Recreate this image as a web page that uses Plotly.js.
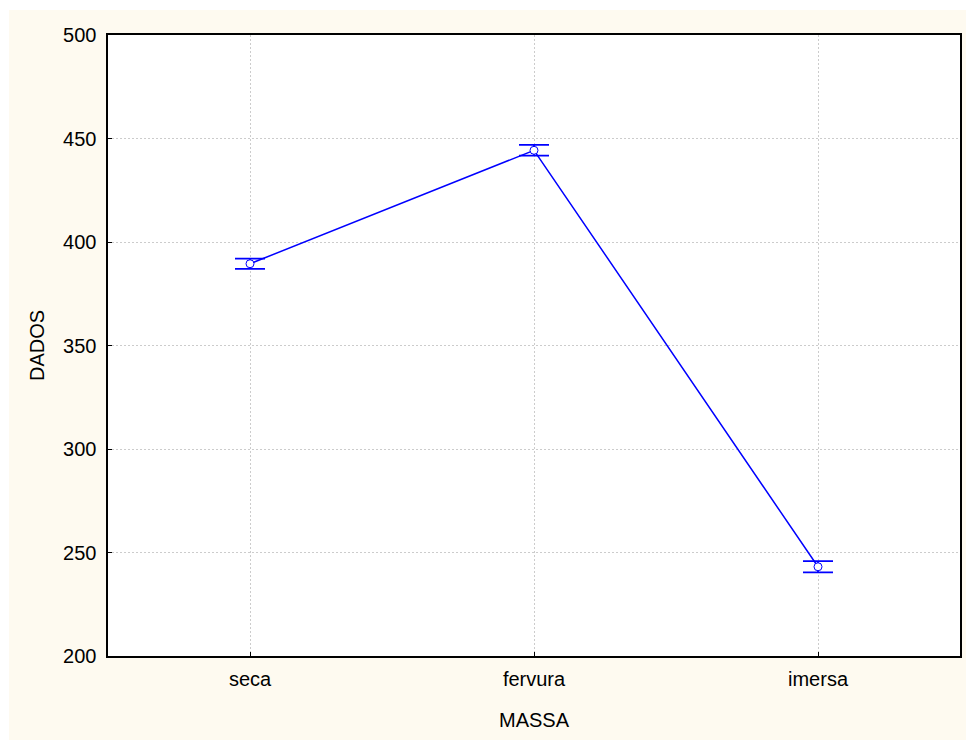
<!DOCTYPE html>
<html>
<head>
<meta charset="utf-8">
<script src="https://cdn.plot.ly/plotly-3.0.1.min.js"></script>
<style>
html,body{margin:0;padding:0;background:#ffffff;overflow:hidden;}
#chart{position:absolute;left:9px;top:10px;width:957px;height:730px;}
</style>
</head>
<body>
<div id="chart"></div>
<script>
const categories = ["seca", "fervura", "imersa"];
const means = [389.5, 444.3, 243.1];
const errors = [2.5, 2.6, 2.7];
const yTicks = [200, 250, 300, 350, 400, 450, 500];

const trace = {
  x: categories,
  y: means,
  type: "scatter",
  mode: "lines+markers",
  line: {color: "#0000FF", width: 1.5},
  marker: {symbol: "circle", size: 8, color: "#ffffff", line: {color: "#0000FF", width: 1}},
  error_y: {type: "data", array: errors, visible: true, color: "#0000FF", thickness: 1.8, width: 15},
  hoverinfo: "skip"
};

const layout = {
  width: 957, height: 730,
  margin: {l: 99, r: 6, t: 25, b: 84},
  paper_bgcolor: "#FEFAF0",
  plot_bgcolor: "#ffffff",
  showlegend: false,
  font: {family: "Liberation Sans, Arial, sans-serif", size: 20, color: "#000000"},
  xaxis: {
    type: "category",
    range: [-0.5, 2.5],
    showgrid: true, gridcolor: "#cccccc", griddash: "2px,2px", gridwidth: 1,
    showline: true, linecolor: "#000000", linewidth: 1.6, mirror: true,
    ticks: "inside", ticklen: 4, tickcolor: "#000000", tickwidth: 1,
    ticklabelstandoff: 4,
    tickfont: {size: 20},
    zeroline: false,
    title: {text: "MASSA", font: {size: 20}, standoff: 24}
  },
  yaxis: {
    range: [200, 500],
    tickvals: yTicks,
    showgrid: true, gridcolor: "#cccccc", griddash: "2px,2px", gridwidth: 1,
    showline: true, linecolor: "#000000", linewidth: 1.6, mirror: true,
    ticks: "inside", ticklen: 4, tickcolor: "#000000", tickwidth: 1,
    ticklabelstandoff: 6,
    tickfont: {size: 20},
    zeroline: false,
    title: {text: "DADOS", font: {size: 20}, standoff: 13}
  }
};

Plotly.newPlot("chart", [trace], layout, {displayModeBar: false, staticPlot: true});
</script>
</body>
</html>
